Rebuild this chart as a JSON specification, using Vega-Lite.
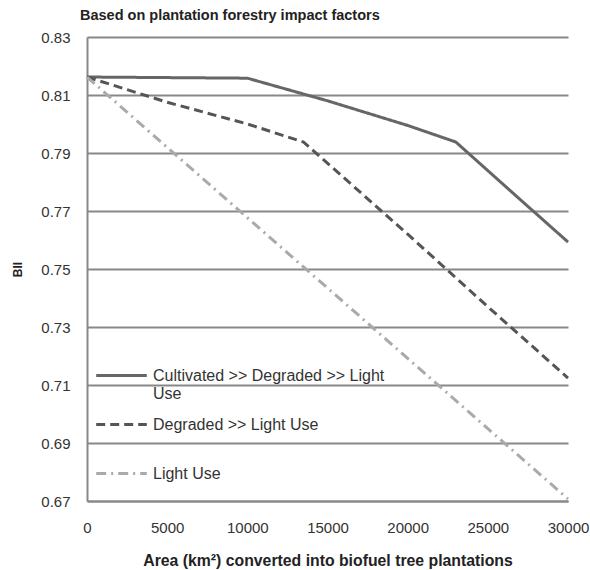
{
  "$schema": "https://vega.github.io/schema/vega-lite/v6.json",
  "width": 481,
  "height": 464,
  "autosize": "none",
  "padding": {"left": 87, "top": 37, "right": 22, "bottom": 69},
  "title": {"text": "Based on plantation forestry impact factors", "anchor": "start", "frame": "group", "dx": -7, "offset": 7, "font": "Liberation Sans", "fontSize": 14.5, "fontWeight": "bold", "color": "#222"},
  "config": {
    "view": {"stroke": null},
    "font": "Liberation Sans"
  },
  "data": {
    "values": [
      {"area": 0, "bii": 0.8162, "series": "Cultivated >> Degraded >> Light Use"},
      {"area": 5000, "bii": 0.8160, "series": "Cultivated >> Degraded >> Light Use"},
      {"area": 10000, "bii": 0.8158, "series": "Cultivated >> Degraded >> Light Use"},
      {"area": 15000, "bii": 0.8080, "series": "Cultivated >> Degraded >> Light Use"},
      {"area": 20000, "bii": 0.7995, "series": "Cultivated >> Degraded >> Light Use"},
      {"area": 23000, "bii": 0.7938, "series": "Cultivated >> Degraded >> Light Use"},
      {"area": 26500, "bii": 0.7765, "series": "Cultivated >> Degraded >> Light Use"},
      {"area": 30000, "bii": 0.7593, "series": "Cultivated >> Degraded >> Light Use"},
      {"area": 0, "bii": 0.8162, "series": "Degraded >> Light Use"},
      {"area": 5000, "bii": 0.8075, "series": "Degraded >> Light Use"},
      {"area": 10000, "bii": 0.8000, "series": "Degraded >> Light Use"},
      {"area": 13500, "bii": 0.7938, "series": "Degraded >> Light Use"},
      {"area": 20000, "bii": 0.7620, "series": "Degraded >> Light Use"},
      {"area": 25000, "bii": 0.7370, "series": "Degraded >> Light Use"},
      {"area": 30000, "bii": 0.7124, "series": "Degraded >> Light Use"},
      {"area": 0, "bii": 0.8162, "series": "Light Use"},
      {"area": 10000, "bii": 0.7677, "series": "Light Use"},
      {"area": 20000, "bii": 0.7192, "series": "Light Use"},
      {"area": 30000, "bii": 0.6707, "series": "Light Use"}
    ]
  },
  "mark": {"type": "line", "strokeWidth": 3},
  "encoding": {
    "x": {
      "field": "area", "type": "quantitative",
      "scale": {"domain": [0, 30000], "nice": false},
      "axis": {
        "values": [0, 5000, 10000, 15000, 20000, 25000, 30000],
        "format": "d", "grid": false, "ticks": false,
        "domainColor": "#888", "domainWidth": 2,
        "labelFont": "Liberation Sans", "labelFontSize": 15, "labelColor": "#333", "labelPadding": 19,
        "labelFlush": false,
        "title": "Area (km²) converted into biofuel tree plantations",
        "titleFont": "Liberation Sans", "titleFontSize": 15.8, "titleFontWeight": "bold", "titleColor": "#222", "titlePadding": 18
      }
    },
    "y": {
      "field": "bii", "type": "quantitative",
      "scale": {"domain": [0.67, 0.83], "nice": false, "zero": false},
      "axis": {
        "values": [0.67, 0.69, 0.71, 0.73, 0.75, 0.77, 0.79, 0.81, 0.83],
        "format": ".2f", "grid": true, "gridColor": "#888", "gridWidth": 2, "gridOpacity": 1,
        "ticks": false, "domainColor": "#888", "domainWidth": 2,
        "labelFont": "Liberation Sans", "labelFontSize": 15, "labelColor": "#333", "labelPadding": 17,
        "title": "BII", "titleFont": "Liberation Sans", "titleFontSize": 12, "titleFontWeight": "bold", "titleColor": "#222", "titlePadding": 16
      }
    },
    "color": {
      "field": "series", "type": "nominal",
      "scale": {"domain": ["Cultivated >> Degraded >> Light Use", "Degraded >> Light Use", "Light Use"], "range": ["#666666", "#555555", "#aaaaaa"]},
      "legend": {
        "orient": "none", "legendX": 20, "legendY": 324, "title": null,
        "symbolType": "M-2,0H2", "symbolSize": 640, "symbolStrokeWidth": 3, "symbolFillColor": "transparent",
        "labelFont": "Liberation Sans", "labelFontSize": 16, "labelColor": "#333", "labelOffset": 17,
        "labelLimit": 300, "rowPadding": 8,
        "labelExpr": "datum.label == 'Cultivated >> Degraded >> Light Use' ? ['Cultivated >> Degraded >> Light', 'Use'] : [datum.label, ' ']"
      }
    },
    "strokeDash": {
      "field": "series", "type": "nominal",
      "scale": {"domain": ["Cultivated >> Degraded >> Light Use", "Degraded >> Light Use", "Light Use"], "range": [[1, 0], [9, 5], [10, 5, 2, 5]]},
      "legend": null
    }
  }
}
